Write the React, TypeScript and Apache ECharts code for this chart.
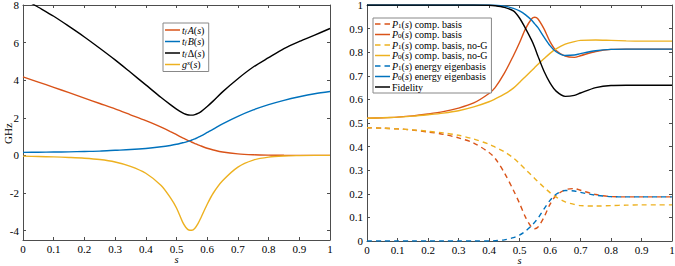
import React, { useEffect, useRef } from "react";
import * as echarts from "echarts";

// ---- Left panel data ----
const sLeft = [0, 0.05, 0.1, 0.15, 0.2, 0.25, 0.3, 0.35, 0.4, 0.45, 0.48, 0.5, 0.52, 0.53, 0.54, 0.55, 0.56, 0.57, 0.58, 0.6, 0.62, 0.65, 0.7, 0.75, 0.8, 0.85, 0.9, 0.95, 1];
const tfA = [4.18, 3.9, 3.62, 3.34, 3.05, 2.76, 2.47, 2.16, 1.85, 1.5, 1.27, 1.1, 0.93, 0.85, 0.78, 0.7, 0.63, 0.56, 0.5, 0.38, 0.29, 0.18, 0.08, 0.035, 0.015, 0.005, 0, 0, 0];
const tfB = [0.16, 0.17, 0.18, 0.19, 0.21, 0.23, 0.27, 0.31, 0.37, 0.46, 0.53, 0.59, 0.67, 0.71, 0.76, 0.82, 0.88, 0.96, 1.04, 1.22, 1.4, 1.68, 2.08, 2.42, 2.7, 2.93, 3.12, 3.28, 3.4];
const tfDelta = [8.35, 7.88, 7.4, 6.86, 6.3, 5.7, 5.08, 4.42, 3.75, 3.08, 2.7, 2.46, 2.26, 2.19, 2.15, 2.14, 2.17, 2.23, 2.33, 2.6, 2.9, 3.38, 4.08, 4.7, 5.2, 5.68, 6.06, 6.4, 6.75];
const gx = [-0.04, -0.06, -0.08, -0.11, -0.15, -0.22, -0.35, -0.58, -0.95, -1.6, -2.25, -2.8, -3.55, -3.82, -3.97, -3.98, -3.87, -3.63, -3.3, -2.6, -2.0, -1.35, -0.62, -0.25, -0.09, -0.03, -0.01, 0, 0];
const leftYTicks = [-4, -2, 0, 2, 4, 6, 8];

// ---- Right panel data ----
const sRight = [0, 0.05, 0.1, 0.15, 0.2, 0.25, 0.3, 0.35, 0.4, 0.42, 0.45, 0.48, 0.5, 0.52, 0.54, 0.55, 0.56, 0.58, 0.6, 0.62, 0.65, 0.68, 0.7, 0.75, 0.8, 0.85, 0.9, 0.95, 1];
const p1Comp = [0.48, 0.478, 0.475, 0.47, 0.462, 0.452, 0.437, 0.415, 0.375, 0.35, 0.29, 0.215, 0.16, 0.1, 0.058, 0.052, 0.058, 0.1, 0.155, 0.193, 0.217, 0.222, 0.215, 0.197, 0.188, 0.187, 0.187, 0.187, 0.187];
const p0Comp = [0.52, 0.522, 0.525, 0.53, 0.538, 0.548, 0.563, 0.585, 0.625, 0.65, 0.71, 0.785, 0.84, 0.9, 0.942, 0.948, 0.942, 0.9, 0.845, 0.807, 0.783, 0.778, 0.785, 0.803, 0.812, 0.813, 0.813, 0.813, 0.813];
const p1NoG = [0.48, 0.478, 0.475, 0.471, 0.465, 0.458, 0.448, 0.432, 0.41, 0.398, 0.378, 0.352, 0.328, 0.303, 0.278, 0.265, 0.252, 0.228, 0.205, 0.186, 0.166, 0.155, 0.15, 0.148, 0.15, 0.152, 0.153, 0.153, 0.153];
const p0NoG = [0.52, 0.522, 0.525, 0.529, 0.535, 0.542, 0.552, 0.568, 0.59, 0.602, 0.622, 0.648, 0.672, 0.697, 0.722, 0.735, 0.748, 0.772, 0.795, 0.814, 0.834, 0.845, 0.85, 0.852, 0.85, 0.848, 0.847, 0.847, 0.847];
const p1Energy = [0, 0, 0, 0, 0, 0, 0, 0, 0, 0.001, 0.005, 0.014, 0.025, 0.042, 0.065, 0.08, 0.095, 0.135, 0.172, 0.198, 0.214, 0.212, 0.206, 0.194, 0.188, 0.187, 0.187, 0.187, 0.187];
const p0Energy = [1, 1, 1, 1, 1, 1, 1, 1, 1, 0.999, 0.995, 0.986, 0.975, 0.958, 0.935, 0.92, 0.905, 0.865, 0.828, 0.802, 0.786, 0.788, 0.794, 0.806, 0.812, 0.813, 0.813, 0.813, 0.813];
const fidelity = [1, 1, 1, 1, 1, 1, 1, 1, 0.999, 0.997, 0.99, 0.975, 0.945, 0.9, 0.85, 0.82, 0.785, 0.72, 0.67, 0.635, 0.613, 0.617, 0.627, 0.65, 0.659, 0.66, 0.66, 0.66, 0.66];

const BLUE = "#0072BD";
const ORANGE = "#D95319";
const YELLOW = "#EDB120";
const BLACK = "#000000";
const FONT = "Liberation Serif";
const AXIS_COLOR = "#4d4d4d";

const SOLID_ICON = "path://M0,0H15V1.5H0Z";
const DASHED_ICON = "path://M0,0H5.5V1.5H0Z M9.5,0H15V1.5H9.5Z";

const legendLabels: Record<string, string> = {
  A: "{i|t}{sb|f}{i|A}({i|s})",
  B: "{i|t}{sb|f}{i|B}({i|s})",
  D: "{i|t}{sb|f}Δ({i|s})",
  G: "{i|g}{sp|x}({i|s})",
  P1c: "{i|P}{sn|1}({i|s}) comp. basis",
  P0c: "{i|P}{sn|0}({i|s}) comp. basis",
  P1n: "{i|P}{sn|1}({i|s}) comp. basis, no-G",
  P0n: "{i|P}{sn|0}({i|s}) comp. basis, no-G",
  P1e: "{i|P}{sn|1}({i|s}) energy eigenbasis",
  P0e: "{i|P}{sn|0}({i|s}) energy eigenbasis",
  F: "Fidelity",
};

function pairs(xs: number[], ys: number[]) {
  return xs.map((x, i) => [x, ys[i]]);
}

export default function App() {
  const ref = useRef<HTMLDivElement>(null);
  useEffect(() => {
    if (!ref.current) return;
    const chart = echarts.init(ref.current, null, { renderer: "svg" });
    const axisLine = { show: true, onZero: false, lineStyle: { color: AXIS_COLOR, width: 1 } };
    const tick = { show: true, inside: true, length: 3, lineStyle: { color: AXIS_COLOR } };
    const label = { fontFamily: FONT, fontSize: 11, color: "#000" };

    const mkX = (gridIndex: number, pos: string, showLabel: boolean) => ({
      gridIndex,
      type: "value",
      min: 0,
      max: 1,
      interval: 0.1,
      position: pos,
      axisLine,
      axisTick: tick,
      splitLine: { show: false },
      axisLabel: { ...label, show: showLabel, margin: 3 },
      name: showLabel ? "s" : "",
      nameLocation: "middle",
      nameGap: 14,
      nameMoveOverlap: false,
      nameTextStyle: { fontFamily: FONT, fontSize: 10.5, fontStyle: "italic", color: "#000" },
    });
    const mkYLeft = (pos: string, showLabel: boolean) => ({
      gridIndex: 0,
      type: "value",
      min: -4.5,
      max: 8,
      position: pos,
      axisLine,
      axisTick: { ...tick, customValues: leftYTicks },
      splitLine: { show: false },
      axisLabel: { ...label, show: showLabel, margin: 4, customValues: leftYTicks },
      name: showLabel ? "GHz" : "",
      nameLocation: "middle",
      nameGap: 10,
      nameMoveOverlap: false,
      nameRotate: 90,
      nameTextStyle: { fontFamily: FONT, fontSize: 11, color: "#000", padding: [0, 0, 0, -22] },
    });
    const mkYRight = (pos: string, showLabel: boolean) => ({
      gridIndex: 1,
      type: "value",
      min: 0,
      max: 1,
      interval: 0.1,
      position: pos,
      axisLine,
      axisTick: tick,
      splitLine: { show: false },
      axisLabel: { ...label, show: showLabel, margin: 4 },
    });

    const line = (name: string, x: number[], y: number[], color: string, idx: number, dashed = false) => ({
      name,
      type: "line",
      xAxisIndex: idx === 0 ? 0 : 2,
      yAxisIndex: idx === 0 ? 0 : 2,
      data: pairs(x, y),
      smooth: 0.3,
      symbol: "none",
      clip: true,
      lineStyle: { color, width: 1.4, type: dashed ? [5, 4] : "solid" },
      itemStyle: { color },
    });

    const rich = {
      i: { fontFamily: FONT, fontSize: 10, fontStyle: "italic", color: "#000" },
      sb: { fontFamily: FONT, fontSize: 7, fontStyle: "italic", color: "#000", verticalAlign: "bottom", lineHeight: 7, padding: [3, 1, 0, 0] },
      sn: { fontFamily: FONT, fontSize: 7, color: "#000", verticalAlign: "bottom", lineHeight: 7, padding: [3, 0, 0, 0] },
      sp: { fontFamily: FONT, fontSize: 7, fontStyle: "italic", color: "#000", verticalAlign: "top", lineHeight: 7, padding: [0, 0, 3, 0] },
    };
    const legendBase = {
      orient: "vertical",
      backgroundColor: "#fff",
      borderColor: "#888",
      borderWidth: 1,
      itemWidth: 15,
      itemHeight: 2,
      selectedMode: false,
      textStyle: { fontFamily: FONT, fontSize: 10, color: "#000", padding: [0, 0, 0, -3], rich },
      formatter: (n: string) => legendLabels[n],
    };
    const item = (name: string, color: string, dashed = false) => ({
      name,
      icon: dashed ? DASHED_ICON : SOLID_ICON,
      itemStyle: { color },
    });

    chart.setOption({
      animation: false,
      grid: [
        { left: 23, top: 5, width: 307, height: 235, outerBoundsMode: "none", containLabel: false },
        { left: 367, top: 5, width: 305, height: 236, outerBoundsMode: "none", containLabel: false },
      ],
      xAxis: [mkX(0, "bottom", true), mkX(0, "top", false), mkX(1, "bottom", true), mkX(1, "top", false)],
      yAxis: [mkYLeft("left", true), mkYLeft("right", false), mkYRight("left", true), mkYRight("right", false)],
      legend: [
        {
          ...legendBase,
          left: 163,
          top: 23,
          itemGap: 1.5,
          padding: [2, 4, 2, 2],
          data: [item("A", ORANGE), item("B", BLUE), item("D", BLACK), item("G", YELLOW)],
        },
        {
          ...legendBase,
          left: 373,
          top: 18,
          itemGap: 0.5,
          padding: [1, 4, 1, 2],
          data: [
            item("P1c", ORANGE, true),
            item("P0c", ORANGE),
            item("P1n", YELLOW, true),
            item("P0n", YELLOW),
            item("P1e", BLUE, true),
            item("P0e", BLUE),
            item("F", BLACK),
          ],
        },
      ],
      series: [
        line("A", sLeft, tfA, ORANGE, 0),
        line("B", sLeft, tfB, BLUE, 0),
        line("D", sLeft, tfDelta, BLACK, 0),
        line("G", sLeft, gx, YELLOW, 0),
        line("P1c", sRight, p1Comp, ORANGE, 1, true),
        line("P0c", sRight, p0Comp, ORANGE, 1),
        line("P1n", sRight, p1NoG, YELLOW, 1, true),
        line("P0n", sRight, p0NoG, YELLOW, 1),
        line("P1e", sRight, p1Energy, BLUE, 1, true),
        line("P0e", sRight, p0Energy, BLUE, 1),
        line("F", sRight, fidelity, BLACK, 1),
      ],
    });
    return () => chart.dispose();
  }, []);
  return <div ref={ref} style={{ position: "absolute", left: 0, top: 0, width: 675, height: 266 }} />;
}
